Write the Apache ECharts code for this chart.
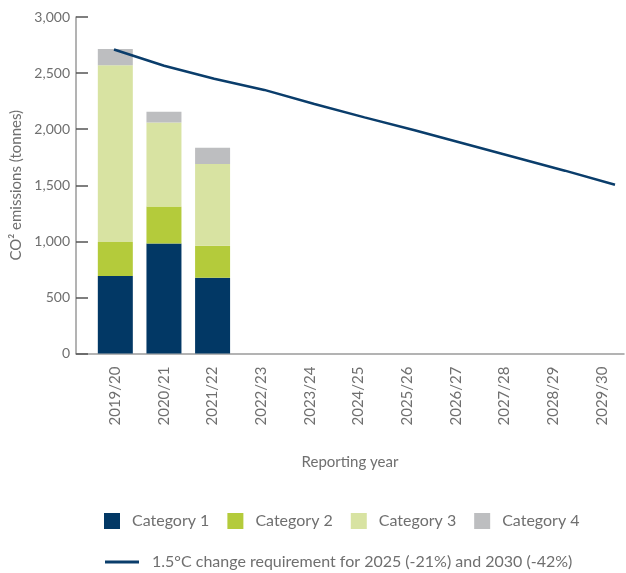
<!DOCTYPE html>
<html>
<head>
<meta charset="utf-8">
<script src="https://cdn.jsdelivr.net/npm/echarts@6/dist/echarts.min.js"></script>
<style>
  html, body { margin: 0; padding: 0; background: #ffffff; }
  #chart { width: 626px; height: 573px; }
</style>
</head>
<body>
<div id="chart"></div>
<script>
// Reporting years on the horizontal axis
const years = ['2019/20', '2020/21', '2021/22', '2022/23', '2023/24', '2024/25',
               '2025/26', '2026/27', '2027/28', '2028/29', '2029/30'];

// Emissions by category (tonnes CO2), reported years only
const category1 = [690, 980, 675];
const category2 = [305, 330, 285];
const category3 = [1575, 750, 730];
const category4 = [145, 95, 145];

// 1.5°C reduction pathway (tonnes CO2)
const pathway = [2710, 2565, 2450, 2350, 2225, 2105, 1990, 1870, 1750, 1630, 1505];

// Value axis ticks
const yTicks = { min: 0, max: 3000, interval: 500 };

const seriesNames = ['Category 1', 'Category 2', 'Category 3', 'Category 4'];
const pathwayName = '1.5°C change requirement for 2025 (-21%) and 2030 (-42%)';
const colors = ['#023865', '#b4cb3b', '#d8e3a2', '#bdbec0'];
const lineColor = '#0a3d6b';
const font = 'Lato, "Open Sans", sans-serif';
const textGrey = '#6f6f6f';

const chart = echarts.init(document.getElementById('chart'), null, { renderer: 'canvas' });

const gridTop = 17;
const gridBottom = 219.5;

const stacks = [category1, category2, category3, category4].map((vals, i) => ({
  name: seriesNames[i],
  type: 'bar',
  stack: 'total',
  xAxisIndex: 1,
  yAxisIndex: 1,
  barWidth: 35,
  itemStyle: { color: colors[i] },
  data: vals
}));

chart.setOption({
  animation: false,
  textStyle: { fontFamily: font },
  grid: [
    // frame grid: carries the visible axes
    { left: 76, right: 2, top: gridTop, bottom: gridBottom },
    // bar grid
    { left: 91, width: 539, top: gridTop, bottom: gridBottom },
    // pathway grid
    { left: 114, width: 501, top: gridTop, bottom: gridBottom }
  ],
  xAxis: [
    {
      gridIndex: 0, type: 'value', min: 0, max: 1,
      name: 'Reporting year', nameLocation: 'middle', nameGap: 101,
      nameTextStyle: { color: textGrey, fontSize: 15, fontFamily: font },
      axisLine: { show: true, lineStyle: { color: '#9a9a9a', width: 1.5 } },
      axisTick: { show: false }, axisLabel: { show: false }, splitLine: { show: false }
    },
    {
      gridIndex: 1, type: 'category', data: years,
      axisLine: { show: false }, axisTick: { show: false },
      axisLabel: { rotate: 90, margin: 13, color: textGrey, fontSize: 15, fontFamily: font }
    },
    {
      gridIndex: 2, type: 'category', data: years, boundaryGap: false, show: false
    }
  ],
  yAxis: [
    {
      gridIndex: 0, type: 'value', min: yTicks.min, max: yTicks.max, interval: yTicks.interval,
      name: 'CO² emissions (tonnes)', nameLocation: 'middle', nameRotate: 90, nameGap: 43,
      nameTextStyle: { color: textGrey, fontSize: 15, fontFamily: font },
      axisLine: { show: true, lineStyle: { color: '#9a9a9a', width: 1.5 } },
      axisTick: { show: true, inside: true, length: 12, lineStyle: { color: '#555555', width: 1.5 } },
      axisLabel: {
        margin: 6, color: textGrey, fontSize: 14, fontFamily: font,
        formatter: v => v.toLocaleString('en-US')
      },
      splitLine: { show: false }
    },
    { gridIndex: 1, type: 'value', min: yTicks.min, max: yTicks.max, show: false },
    { gridIndex: 2, type: 'value', min: yTicks.min, max: yTicks.max, show: false }
  ],
  legend: [
    {
      data: seriesNames,
      left: 104, top: 513, padding: 0,
      icon: 'rect', itemWidth: 16, itemHeight: 16, itemGap: 18,
      textStyle: { color: textGrey, fontSize: 16, fontFamily: font, padding: [0, 0, 0, 7] }
    },
    {
      data: [pathwayName],
      left: 105, top: 554, padding: 0,
      icon: 'rect', itemWidth: 34, itemHeight: 3,
      textStyle: { color: textGrey, fontSize: 16, fontFamily: font, padding: [0, 0, 0, 8] }
    }
  ],
  series: [
    ...stacks,
    {
      name: pathwayName,
      type: 'line',
      xAxisIndex: 2,
      yAxisIndex: 2,
      data: pathway,
      symbol: 'none',
      itemStyle: { color: lineColor },
      lineStyle: { color: lineColor, width: 2.5 },
      z: 5
    }
  ]
});
</script>
</body>
</html>
